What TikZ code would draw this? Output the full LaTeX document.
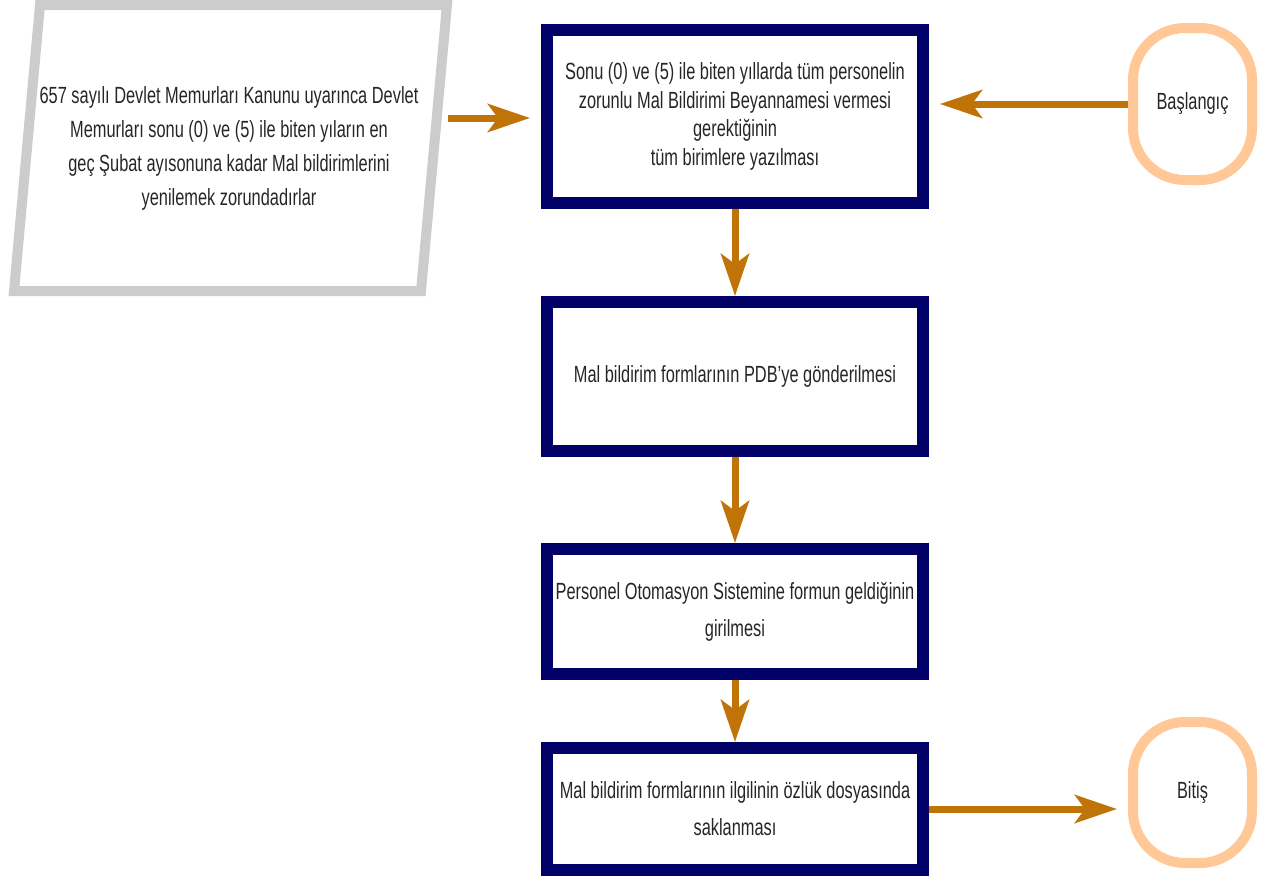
\documentclass[tikz,border=0pt]{standalone}
\usepackage{fontspec}
\setmainfont{Liberation Sans}[FakeStretch=0.7]
\usepackage{xcolor}
\usetikzlibrary{
    arrows.meta,
    positioning
}
\definecolor{navybox}{RGB}{0,0,102}
\definecolor{flowline}{RGB}{192,116,8}
\definecolor{termline}{RGB}{255,200,150}
\definecolor{lawline}{RGB}{204,204,204}
\tikzset{
    procbox/.style={
        rectangle,
        draw=navybox,
        line width=6pt,
        fill=white,
        align=center,
        minimum width=188pt,
        text=black!85,
        font=\fontsize{11.7}{18.5}\selectfont
    },
    terminal/.style={
        rectangle,
        rounded corners=26pt,
        draw=termline,
        line width=5pt,
        align=center,
        minimum width=59.5pt,
        minimum height=76pt,
        text=black!85,
        font=\fontsize{11.7}{14}\selectfont
    },
    lawedge/.style={
        draw=lawline,
        line width=5pt
    },
    flow/.style={
        -{Stealth[length=21pt,width=14pt,inset=5pt]},
        line width=3.5pt,
        draw=flowline
    }
}

\begin{document}
\begin{tikzpicture}[x=0.5pt, y=-0.5pt]
\useasboundingbox (0,0) rectangle (1266,878);

% input document
\draw[lawedge] (14,291) -- (40,5) -- (447,5) -- (421,291) -- cycle;
\node[align=center, text=black!85, font=\fontsize{11.7}{17}\selectfont] (law) at (229,148.5)
    {657 sayılı Devlet Memurları Kanunu uyarınca Devlet\\
     Memurları sonu (0) ve (5) ile biten yıların en\\
     geç Şubat ayısonuna kadar Mal bildirimlerini\\
     yenilemek zorundadırlar};
\coordinate (lawout) at (448,118);

% main flow
\node[procbox, minimum height=86.5pt, font=\fontsize{11.7}{14.25}\selectfont] (notice) at (735,116.5)
    {Sonu (0) ve (5) ile biten yıllarda tüm personelin\\
     zorunlu Mal Bildirimi Beyannamesi vermesi\\
     gerektiğinin\\
     tüm birimlere yazılması};
\node[procbox, minimum height=74.5pt, below=43.5pt of notice] (send) {Mal bildirim formlarının PDB'ye gönderilmesi};
\node[procbox, minimum height=62.5pt, below=43pt of send] (entry) {Personel Otomasyon Sistemine formun geldiğinin\\girilmesi};
\node[procbox, minimum height=61pt, below=31pt of entry] (archive) {Mal bildirim formlarının ilgilinin özlük dosyasında\\saklanması};

% start and end
\node[terminal] (start) at (1192.5,104) {Başlangıç};
\node[terminal, minimum height=70.5pt] (finish) at (1192.5,792.5) {Bitiş};

\draw[flow, shorten >=5.5pt] (lawout) -- (lawout -| notice.west);
\draw[flow, shorten >=5.5pt] (start.west) -- (start.west -| notice.east);
\draw[flow] (notice) -- (send);
\draw[flow] (send) -- (entry);
\draw[flow] (entry) -- (archive);
\draw[flow, shorten >=5.5pt] (archive.east) -- (archive.east -| finish.west);
\end{tikzpicture}
\end{document}
